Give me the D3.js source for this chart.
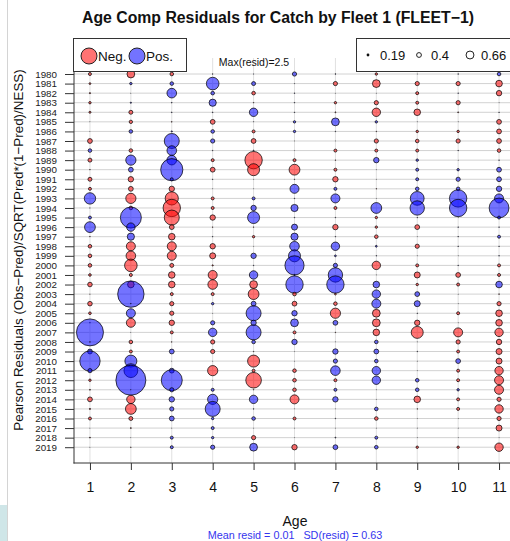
<!DOCTYPE html>
<html><head><meta charset="utf-8">
<script src="https://cdn.jsdelivr.net/npm/d3@7"></script>
<style>body{margin:0;background:#fff;overflow:hidden} svg{display:block;font-family:"Liberation Sans",Arial,Helvetica,sans-serif;}</style>
</head><body><svg id="c" width="510" height="541"></svg>
<script>
// ---- data ----
const ages = [1,2,3,4,5,6,7,8,9,10,11];
const years = [1980,1981,1982,1983,1984,1985,1986,1987,1988,1989,1990,1991,1992,1993,1994,1995,1996,1997,1998,1999,
               2000,2001,2002,2003,2004,2005,2006,2007,2008,2009,2010,2011,2012,2013,2014,2015,2016,2017,2018,2019];
const legendSizes = [0.19, 0.4, 0.66];
const maxResid = 2.5;
const age1 = [-0.25,-0.15,-0.1,-0.2,-0.17,0.02,0.02,-0.4,0.3,-0.33, -0.05,-0.33,-0.25,0.95,0.03,0.25,0.9,-0.05,-0.3,-0.3,
              -0.3,-0.22,-0.38,-0.03,-0.38,-0.22,0.05,2.25,-0.05,0.4, 1.7,0.35,-0.2,-0.08,-0.4,-0.1,-0.25,0.02,-0.08,0.02];
const age2 = [-0.65,0.2,0.02,0.1,-0.33,-0.28,0.3,0.02,-0.3,0.85, 0.4,-0.45,-0.4,-0.85,-0.3,1.75,0.7,0.6,-0.75,-0.8,
              -1.05,-0.25,-0.55,2.2,0.05,0.75,-0.75,0.02,-0.3,-0.25, 1.0,1.15,2.5,0.03,-0.7,-0.9,-0.33,-0.08,0.02,-0.05];
const age3 = [-0.3,0.3,0.8,0.06,0.06,-0.06,0.1,1.25,0.8,0.8, 1.85,0.25,-0.45,-1.1,-1.45,-1.25,-0.4,-0.55,-0.75,-0.75,
              -0.33,-0.55,-0.55,-0.25,-0.35,-0.35,-0.45,-0.25,-0.05,0.4, 0.02,0.4,1.75,0.35,0.45,0.35,0.4,0.02,0.25,0.25];
const age4 = [0.05,1.05,0.3,0.6,0.06,-0.4,0.3,0.35,0.05,-0.25, -0.4,0.05,0.02,-0.25,-0.25,-0.45,-0.05,0.05,-0.45,-0.5,
              -0.1,-0.75,-0.8,-0.25,0.2,0.02,0.35,0.7,-0.35,-0.35, 0.02,-0.85,0.02,0.25,0.85,1.25,0.2,0.25,0.2,0.35];
const age5 = [0.03,0.33,-0.3,-0.05,0.7,0.03,-0.25,-0.4,0.08,-1.45, -1.0,0.02,0.02,0.25,0.45,1.0,-0.05,-0.2,0.02,0.45,
              0.05,0.7,-0.65,-0.9,0.4,1.25,0.45,1.25,0.3,-0.05, -1.0,-0.25,-1.3,-0.05,0.7,0.05,0.3,0.02,-0.35,0.65];
const age6 = [0.35,0.03,0.05,0.05,0.05,0.2,0.2,0.02,0.02,-0.25, -0.9,0.05,0.75,0.05,0.6,0.05,0.5,0.6,0.8,1.0,
              1.6,0.1,1.45,-0.3,-0.4,0.45,0.65,-0.25,0.45,0.02, 0.02,-0.3,-0.3,-0.3,-0.75,0.02,-0.25,0.02,0.02,-0.45];
const age7 = [0.06,-0.35,0.02,-0.2,-0.08,0.65,0.05,0.02,-0.25,-0.05, -0.25,-0.45,0.25,0.75,-0.25,0.05,-0.45,0.05,0.7,0.15,
              0.35,1.2,1.45,-0.15,-0.3,-0.85,0.4,-0.05,0.02,0.45, 0.35,0.8,-0.25,0.25,0.45,0.02,0.05,0.02,0.08,0.4];
const age8 = [-0.2,-0.65,0.02,-0.35,-0.7,0.2,-0.05,-0.35,-0.25,0.45, 0.02,0.02,-0.05,0.02,0.9,-0.2,-0.2,-0.3,0.15,0.05,
              -0.7,0.02,0.55,0.7,0.75,-0.65,-0.65,-0.55,0.3,0.4, 0.3,0.7,0.7,0.02,0.02,0.3,-0.3,0.02,0.25,0.3];
const age9 = [0.02,-0.35,-0.25,-0.25,-0.55,0.02,-0.2,-0.3,-0.25,0.2, 0.25,0.25,0.3,1.15,1.2,0.05,-0.4,0.02,-0.35,0.02,
              -0.25,-0.5,-0.2,0.4,0.5,0.05,-0.45,-1.0,0.02,0.05, 0.02,0.02,0.3,0.3,-0.55,-0.05,0.02,0.02,0.02,-0.2];
const age10 = [0.05,-0.35,0.05,-0.35,-0.08,0.02,-0.2,-0.35,0.05,0.02, 0.2,0.35,0.3,1.45,1.45,0.02,0.05,0.05,0.05,0.02,
               0.05,-0.4,-0.25,0.02,0.02,-0.25,0.02,-0.75,-0.35,-0.25, 0.4,-0.25,-0.25,0.2,-0.25,-0.25,0.02,0.02,0.02,-0.2];
const age11 = [0.3,-0.55,-0.45,0.02,0.05,-0.4,-0.4,-0.4,-0.3,0.05, 0.4,0.4,0.45,0.75,1.65,0.25,0.05,0.25,0.05,0.05,
               -0.25,-0.25,0.55,-0.06,-0.35,-0.55,-0.55,-0.7,-0.45,-0.5, -0.5,-0.7,-0.75,-0.75,-0.35,-0.7,-0.35,-0.5,0.02,-0.7];
const residByAge = [age1,age2,age3,age4,age5,age6,age7,age8,age9,age10,age11];

// ---- build ----
const points = [];
ages.forEach((a,i)=>years.forEach((yr,j)=>points.push({age:a, year:yr, z:residByAge[i][j]})));

const svg = d3.select("#c");
const x = d3.scaleLinear().domain([0.61, 11.39]).range([74, 515]);
const y = d3.scaleLinear().domain([1978.4, 2020.65]).range([58.7, 463]);
const r = d3.scaleLinear().domain([0, maxResid]).range([0, 15]);
const RED = "rgba(255,0,0,0.55)", BLUE = "rgba(0,0,255,0.55)";

// screenshot artefacts
svg.append("line").attr("x1",7.5).attr("x2",7.5).attr("y1",0).attr("y2",541).attr("stroke","#d4d4d4");
svg.append("rect").attr("x",0).attr("y",505).attr("width",7).attr("height",36).attr("fill","#cfe6e8");

// grid
svg.append("g").selectAll("line").data(years).join("line")
  .attr("x1",74).attr("x2",515).attr("y1",d=>y(d)).attr("y2",d=>y(d))
  .attr("stroke","#d2d2d2").attr("stroke-width",1);
svg.append("g").selectAll("line").data(ages).join("line")
  .attr("x1",d=>x(d)).attr("x2",d=>x(d)).attr("y1",58).attr("y2",463)
  .attr("stroke","#e0e0e0").attr("stroke-width",1);

// axes
const xAxis = d3.axisBottom(x).tickValues(ages).tickSize(7).tickPadding(12).tickFormat(d3.format("d"));
const gx = svg.append("g").attr("transform","translate(0,463)").call(xAxis);
gx.select(".domain").remove();
gx.selectAll("line").attr("stroke","#333");
gx.selectAll("text").attr("font-size",14).attr("fill","#111").attr("font-family","Liberation Sans, Arial, sans-serif");
const yAxis = d3.axisLeft(y).tickValues(years).tickSize(9).tickPadding(8).tickFormat(d3.format("d"));
const gy = svg.append("g").attr("transform","translate(74,0)").call(yAxis);
gy.select(".domain").remove();
gy.selectAll("line").attr("stroke","#333");
gy.selectAll("text").attr("font-size",9.8).attr("fill","#222").attr("font-family","Liberation Sans, Arial, sans-serif");
svg.append("line").attr("x1",74).attr("x2",74).attr("y1",40).attr("y2",463.5).attr("stroke","#333");
svg.append("line").attr("x1",73.5).attr("x2",515).attr("y1",463).attr("y2",463).attr("stroke","#333");

// bubbles
svg.append("g").selectAll("circle").data(points).join("circle")
  .attr("cx",d=>x(d.age)).attr("cy",d=>y(d.year)).attr("r",d=>r(Math.abs(d.z)))
  .attr("fill",d=>d.z<0?RED:BLUE).attr("stroke","rgba(0,0,0,0.8)").attr("stroke-width",0.9);

// title
svg.append("text").attr("x",278).attr("y",23).attr("text-anchor","middle")
  .attr("font-size",15.8).attr("font-weight","bold").attr("fill","#111")
  .text("Age Comp Residuals for Catch by Fleet 1 (FLEET\u22121)");

// left legend
const lg = svg.append("g");
lg.append("rect").attr("x",73.5).attr("y",38.5).attr("width",113).attr("height",33).attr("fill","#fff").attr("stroke","#333");
lg.append("circle").attr("cx",89).attr("cy",56).attr("r",8).attr("fill",RED).attr("stroke","#222");
lg.append("text").attr("x",98).attr("y",60.5).attr("font-size",13.5).attr("fill","#111").text("Neg.");
lg.append("circle").attr("cx",137).attr("cy",56).attr("r",8).attr("fill",BLUE).attr("stroke","#222");
lg.append("text").attr("x",146).attr("y",60.5).attr("font-size",13.5).attr("fill","#111").text("Pos.");

// right legend
const rg = svg.append("g");
rg.append("rect").attr("x",356.5).attr("y",38.5).attr("width",160).attr("height",33).attr("fill","#fff").attr("stroke","#333");
const lx = [368, 419, 470], tx = [380, 431, 481];
legendSizes.forEach((v,i)=>{
  if (i===0) rg.append("circle").attr("cx",lx[i]).attr("cy",55).attr("r",1.4).attr("fill","#111");
  else rg.append("circle").attr("cx",lx[i]).attr("cy",55).attr("r",r(v)).attr("fill","none").attr("stroke","#222").attr("stroke-width",1);
  rg.append("text").attr("x",tx[i]).attr("y",59.5).attr("font-size",13).attr("fill","#111").text(String(v));
});

// max label
svg.append("text").attr("x",254).attr("y",66).attr("text-anchor","middle").attr("font-size",10.5).attr("fill","#111")
  .text("Max(resid)=" + maxResid);

// axis titles
svg.append("text").attr("transform","translate(23,250) rotate(-90)").attr("text-anchor","middle")
  .attr("font-size",13.4).attr("fill","#111")
  .text("Pearson Residuals (Obs\u2212Pred)/SQRT(Pred*(1\u2212Pred)/NESS)");
svg.append("text").attr("x",295).attr("y",526).attr("text-anchor","middle").attr("font-size",14).attr("fill","#111").text("Age");
svg.append("text").attr("x",295).attr("y",539).attr("text-anchor","middle").attr("font-size",10.8).attr("fill","#3535ee")
  .text("Mean resid = 0.01\u00a0\u00a0\u00a0SD(resid) = 0.63");
</script>
</body></html>
